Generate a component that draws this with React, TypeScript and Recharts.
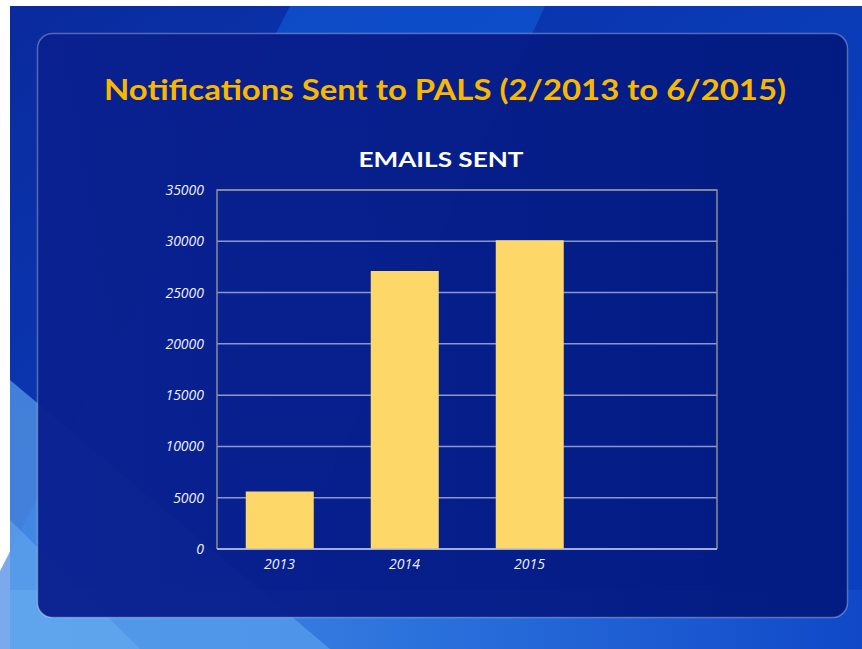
import { BarChart, Bar, XAxis, YAxis, CartesianGrid, usePlotArea } from 'recharts';

// values
const years = ['2013', '2014', '2015', ''];
const emailsSent = [5600, 27100, 30100, null];
const yTicks = [0, 5000, 10000, 15000, 20000, 25000, 30000, 35000];

const TITLE = 'Notifications Sent to PALS (2/2013 to 6/2015)';
const SUBTITLE = 'EMAILS SENT';

const data = years.map((year, i) => ({ year, emails: emailsSent[i] }));

const tickStyle = {
  fill: '#eef0fa',
  fontSize: 14,
  fontStyle: 'italic',
  fontFamily: '"Open Sans", sans-serif',
};

function SlideBackground() {
  return (
    <svg width={862} height={649} style={{ position: 'absolute', left: 0, top: 0 }}>
      <defs>
        <linearGradient id="slideBg" x1="0" y1="0" x2="1" y2="1">
          <stop offset="0" stopColor="#0a2a9e" />
          <stop offset="0.5" stopColor="#0a3cb8" />
          <stop offset="1" stopColor="#0a40c0" />
        </linearGradient>
        <linearGradient id="bottomBg" x1="0" y1="0" x2="1" y2="0">
          <stop offset="0" stopColor="#4a90e4" />
          <stop offset="0.5" stopColor="#2a70dc" />
          <stop offset="1" stopColor="#1048c8" />
        </linearGradient>
        <linearGradient id="panelBg" x1="0" y1="0" x2="1" y2="0">
          <stop offset="0" stopColor="#0a2090" />
          <stop offset="1" stopColor="#021a80" />
        </linearGradient>
      </defs>
      <rect x={0} y={0} width={862} height={649} fill="#ffffff" />
      <rect x={10} y={6} width={852} height={643} fill="url(#slideBg)" />
      {/* light streaks */}
      <polygon points="290,6 545,6 250,649 -40,649" fill="#1160e0" opacity={0.55} />
      <rect x={10} y={590} width={852} height={59} fill="url(#bottomBg)" />
      <polygon points="10,380 10,649 330,649" fill="#5aa0ec" opacity={0.7} />
      <polygon points="10,520 10,649 140,649" fill="#6ab0f0" opacity={0.5} />
      {/* panel */}
      <rect
        x={37.5}
        y={33.5}
        width={810}
        height={584}
        rx={15}
        fill="url(#panelBg)"
        fillOpacity={0.96}
        stroke="rgba(255,255,255,0.3)"
        strokeWidth={1.5}
      />
      <text
        x={445}
        y={100}
        textAnchor="middle"
        textLength={682}
        lengthAdjust="spacingAndGlyphs"
        fill="#f8b800"
        fontFamily="Lato, sans-serif"
        fontWeight="bold"
        fontSize={28}
      >
        {TITLE}
      </text>
      <text
        x={441}
        y={167}
        textAnchor="middle"
        textLength={165}
        lengthAdjust="spacingAndGlyphs"
        fill="#ffffff"
        fontFamily="Lato, sans-serif"
        fontWeight="bold"
        fontSize={21}
      >
        {SUBTITLE}
      </text>
    </svg>
  );
}

// grey frame round the plot area (top, left, right)
function PlotFrame() {
  const area = usePlotArea();
  if (!area) return null;
  const { x, y, width, height } = area;
  return (
    <path
      d={`M${x},${y + height} L${x},${y} L${x + width},${y} L${x + width},${y + height}`}
      fill="none"
      stroke="#8c8c94"
      strokeWidth={1.5}
    />
  );
}

export default function App() {
  return (
    <div style={{ position: 'relative', width: 862, height: 649, overflow: 'hidden' }}>
      <style>{`body { margin: 0; }`}</style>
      <SlideBackground />
      <div style={{ position: 'absolute', left: 0, top: 0 }}>
        <BarChart
          width={862}
          height={649}
          data={data}
          margin={{ top: 190, right: 145, bottom: 70, left: 150 }}
          barCategoryGap="23%"
        >
          <CartesianGrid vertical={false} stroke="rgba(225,230,255,0.6)" strokeWidth={1.5} />
          <XAxis
            dataKey="year"
            height={30}
            tickSize={0}
            tickMargin={10}
            tick={tickStyle}
            axisLine={{ stroke: '#b8bedc', strokeWidth: 1.5 }}
          />
          <YAxis
            width={67}
            domain={[0, 35000]}
            ticks={yTicks}
            interval={0}
            tickSize={0}
            tickMargin={13}
            tick={tickStyle}
            axisLine={false}
          />
          <PlotFrame />
          <Bar dataKey="emails" fill="#fdd869" isAnimationActive={false} />
        </BarChart>
      </div>
    </div>
  );
}
